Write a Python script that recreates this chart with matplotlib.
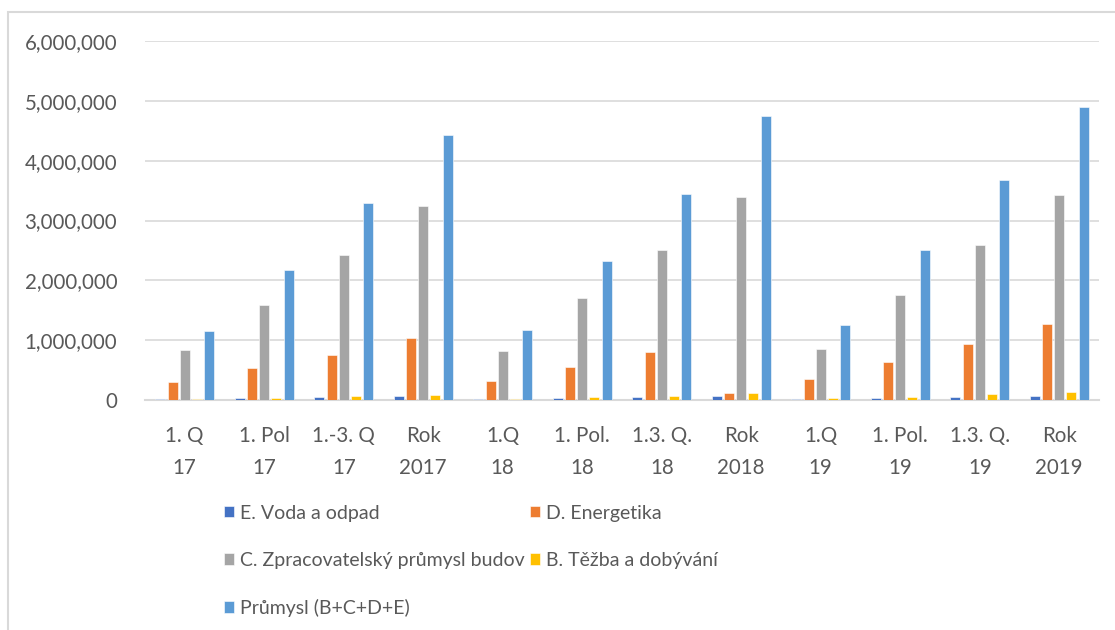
import numpy as np
import matplotlib.pyplot as plt
from matplotlib.patches import Rectangle
from matplotlib.ticker import FuncFormatter

plt.rcParams['font.family'] = ['Lato', 'DejaVu Sans']

periods = ['1. Q\n17', '1. Pol\n17', '1.-3. Q\n17', 'Rok\n2017',
           '1.Q\n18', '1. Pol.\n18', '1.3. Q.\n18', 'Rok\n2018',
           '1.Q\n19', '1. Pol.\n19', '1.3. Q.\n19', 'Rok\n2019']

voda = [15000, 30000, 50000, 75000, 15000, 30000, 45000, 75000, 15000, 30000, 50000, 70000]
energetika = [300000, 530000, 750000, 1030000, 310000, 545000, 810000, 120000, 345000, 640000, 930000, 1270000]
zpracovatelsky = [830000, 1580000, 2430000, 3240000, 820000, 1700000, 2500000, 3400000, 850000, 1750000, 2590000, 3430000]
tezba = [10000, 40000, 60000, 80000, 15000, 45000, 70000, 110000, 30000, 55000, 100000, 130000]
prumysl = [1160000, 2180000, 3300000, 4430000, 1170000, 2330000, 3450000, 4750000, 1250000, 2500000, 3670000, 4890000]

series = [
    ('E. Voda a odpad', voda, '#4472C4'),
    ('D. Energetika', energetika, '#ED7D31'),
    ('C. Zpracovatelský průmysl budov', zpracovatelsky, '#A5A5A5'),
    ('B. Těžba a dobývání', tezba, '#FFC000'),
    ('Průmysl (B+C+D+E)', prumysl, '#5B9BD5'),
]

fig = plt.figure(figsize=(11.15, 6.3), dpi=100)
ax = fig.add_axes([145 / 1115, 1 - 400 / 630, 954 / 1115, 359 / 630])

# outer chart border (Excel style)
fig.patches.append(Rectangle((8 / 1115, -0.1), 1.2, 1 - 12 / 630 + 0.1,
                             transform=fig.transFigure, fill=False,
                             edgecolor='#D9D9D9', linewidth=1.5))

x = np.arange(len(periods))
width = 0.126
step = 0.153
handles = {}
for i, (name, vals, color) in enumerate(series):
    offs = (i - 2) * step
    b = ax.bar(x + offs, vals, width, color=color, edgecolor='white',
               linewidth=0.4, label=name, zorder=3)
    handles[name] = b

ax.set_xlim(-0.5, len(periods) - 0.5)
ax.set_ylim(0, 6000000)
ax.set_yticks(np.arange(0, 6000001, 1000000))
ax.yaxis.set_major_formatter(FuncFormatter(lambda v, p: f'{int(v):,}'))
ax.set_xticks(x)
ax.set_xticklabels(periods, linespacing=1.7)
ax.tick_params(axis='both', length=0, labelsize=14.8, colors='#595959')
ax.tick_params(axis='y', pad=20)
ax.tick_params(axis='x', pad=19)
ax.grid(axis='y', color='#D9D9D9', linewidth=1.2, zorder=0)
for s in ['top', 'right', 'left']:
    ax.spines[s].set_visible(False)
ax.spines['bottom'].set_color('#D9D9D9')
ax.spines['bottom'].set_linewidth(1.5)

order = ['E. Voda a odpad', 'C. Zpracovatelský průmysl budov', 'Průmysl (B+C+D+E)',
         'D. Energetika', 'B. Těžba a dobývání']
leg = fig.legend([handles[n] for n in order], order, ncol=2,
                 loc='upper left', bbox_to_anchor=(206 / 1115, 1 - 487 / 630),
                 frameon=False, fontsize=14, handlelength=0.55,
                 handleheight=0.55, handletextpad=0.3, columnspacing=0.25,
                 labelspacing=1.55, labelcolor='#595959')

fig.savefig('out.png', dpi=100)
